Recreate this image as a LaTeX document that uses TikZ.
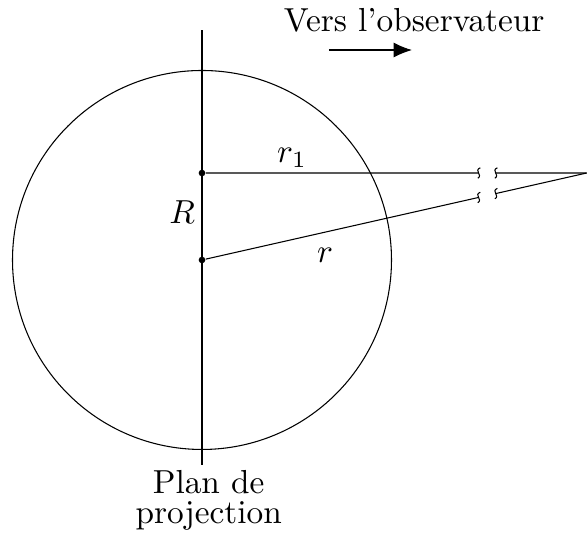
\documentclass[tikz,border=0pt]{standalone}
\usetikzlibrary{arrows.meta,calc}
\tikzset{
  every picture/.style={line width=0.32pt},
  cut/.pic={\draw (0.018,0.055) .. controls (-0.055,0.025) and (0.05,-0.02) .. (-0.008,-0.055);},
  dot/.style={circle,fill=black,inner sep=0pt,minimum size=2pt}
}
\begin{document}
\begin{tikzpicture}
  \useasboundingbox (-2.132,-2.892) rectangle (4.074,2.744);
  % Sphere
  \draw (0,0) circle (2);
  % Projection plane
  \coordinate (top) at (0,2.427);
  \coordinate (bot) at (0,-2.164);
  \draw (top) -- (bot);
  \node[below,inner sep=0pt,yshift=-1.5pt,align=center,xshift=2pt] (plan) at (bot) {Plan de\\[-3pt]projection};
  % Points
  \node[dot] (O) at (0,0) {};
  \node[dot] (A) at (0,0.918) {};
  \coordinate (F) at (4.06,0.918);
  % Break points
  \coordinate (a1) at ($(A)!0.719!(F)$);
  \coordinate (a2) at ($(A)!0.7635!(F)$);
  \coordinate (b1) at ($(O)!0.719!(F)$);
  \coordinate (b2) at ($(O)!0.7635!(F)$);
  % Rays
  \draw (A) -- (a1);
  \draw (a2) -- (F);
  \draw (O) -- (b1);
  \draw (b2) -- (F);
  \pic at (a1) {cut};
  \pic at (a2) {cut};
  \pic at (b1) {cut};
  \pic at (b2) {cut};
  % Labels
  \node (r1) at (0.95,1.08) {$r_1$};
  \node (r) at (1.3,0.05) {$r$};
  \node (R) at (-0.21,0.5) {$R$};
  % Observer
  \node (obs) at (2.24,2.53) {Vers l'observateur};
  \coordinate (v1) at (1.34,2.216);
  \coordinate (v2) at (2.216,2.216);
  \draw[-{Latex[length=5.5pt,width=4.5pt]}] (v1) -- (v2);
\end{tikzpicture}
\end{document}
